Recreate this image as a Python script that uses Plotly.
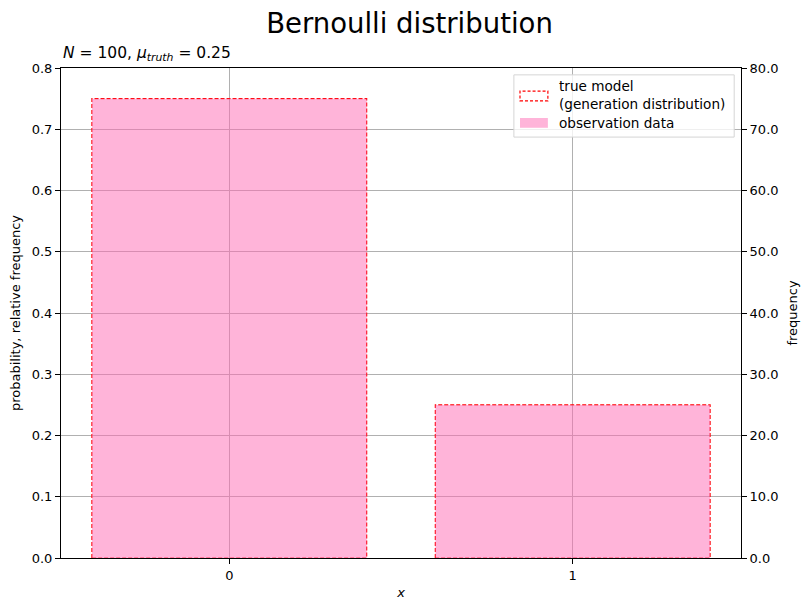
import plotly.graph_objects as go

# dados do grafico
categorias = [0, 1]
prob_verdadeira = [0.75, 0.25]
freq_observada = [75, 25]
n_amostras = 100
mu_truth = 0.25
largura = 0.8

fonte = 'DejaVu Sans'

fig = go.Figure()

# contorno tracejado do modelo verdadeiro (retangulos a partir dos dados)
xs, ys = [], []
for c, p in zip(categorias, prob_verdadeira):
    xs += [c - largura/2, c - largura/2, c + largura/2, c + largura/2, c - largura/2, None]
    ys += [0, p, p, 0, 0, None]
fig.add_trace(go.Scatter(x=xs, y=ys, mode='lines',
                         line=dict(color='red', width=1.2, dash='4px,2px'),
                         showlegend=False, hoverinfo='skip'))

# barras de frequencia observada (eixo da direita)
fig.add_trace(go.Bar(x=categorias, y=freq_observada, width=largura,
                     marker=dict(color='hotpink', opacity=0.5, line=dict(width=0)),
                     yaxis='y2', showlegend=False))

# legenda feita a mao
shapes = [
    dict(type='rect', xref='paper', yref='paper', x0=0.666, x1=0.990, y0=0.859, y1=0.986,
         fillcolor='rgba(255,255,255,0.8)', line=dict(color='#d5d5d5', width=1)),
    dict(type='rect', xref='paper', yref='paper', x0=0.675, x1=0.716, y0=0.933, y1=0.953,
         fillcolor='rgba(0,0,0,0)', line=dict(color='red', width=1.2, dash='3px,2px')),
    dict(type='rect', xref='paper', yref='paper', x0=0.675, x1=0.716, y0=0.878, y1=0.898,
         fillcolor='rgba(255,105,180,0.5)', line=dict(width=0)),
]
annotations = [
    dict(text='true model<br>(generation distribution)', xref='paper', yref='paper',
         x=0.729, y=0.944, xanchor='left', yanchor='middle', showarrow=False, align='left',
         font=dict(family=fonte, size=13.6, color='black')),
    dict(text='observation data', xref='paper', yref='paper',
         x=0.729, y=0.888, xanchor='left', yanchor='middle', showarrow=False,
         font=dict(family=fonte, size=13.6, color='black')),
    dict(text='<i>N</i> = %d, <i>μ</i><sub><i>truth</i></sub> = %.2f' % (n_amostras, mu_truth),
         xref='paper', yref='paper', x=0, y=1.005, xanchor='left', yanchor='bottom',
         showarrow=False, font=dict(family=fonte, size=15.5, color='black')),
]

eixo = dict(showline=True, linecolor='black', linewidth=1, ticks='outside', ticklen=5,
            tickcolor='black', tickfont=dict(family=fonte, size=13, color='black'),
            zeroline=False, automargin=False)

# a pagina tem margem de 8px no body, por isso 803x603
fig.update_layout(
    width=803, height=603,
    margin=dict(l=53, r=70, t=60, b=53),
    plot_bgcolor='white', paper_bgcolor='white',
    barmode='overlay',
    title=dict(text='Bernoulli distribution', x=0.5, xanchor='center', y=0.974, yanchor='middle',
               font=dict(family=fonte, size=27.5, color='black')),
    xaxis=dict(eixo, range=[-0.49, 1.49], tickvals=categorias, mirror=True,
               showgrid=True, gridcolor='#b0b0b0', gridwidth=0.8,
               title=dict(text='<i>x</i>', font=dict(family=fonte, size=13, color='black'), standoff=6)),
    yaxis=dict(eixo, range=[0, 0.8], dtick=0.1, tickformat='.1f',
               showgrid=True, gridcolor='#b0b0b0', gridwidth=0.8,
               title=dict(text='probability, relative frequency',
                          font=dict(family=fonte, size=13, color='black'), standoff=10)),
    yaxis2=dict(eixo, range=[0, 80], dtick=10, tickformat='.1f', overlaying='y', side='right',
                showgrid=False,
                title=dict(text='frequency', font=dict(family=fonte, size=13, color='black'), standoff=10)),
    shapes=shapes, annotations=annotations,
)

fig.write_html('out.html')
